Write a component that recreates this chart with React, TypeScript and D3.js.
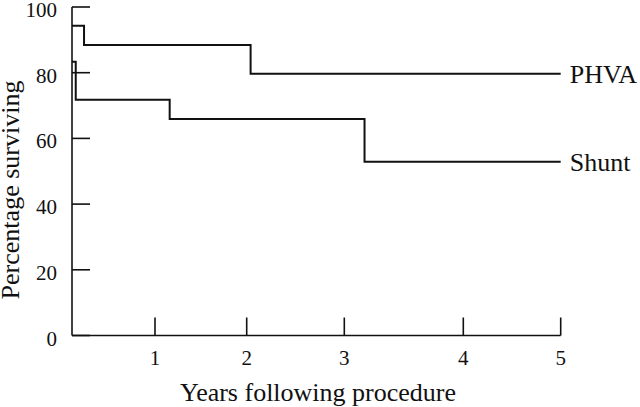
import React from "react";
import * as d3 from "d3";

// survival steps (years, percentage)
const phvaYears = [0, 0.145, 2.04, 5];
const phvaSurvival = [94.3, 88.4, 79.7, 79.7];
const shuntYears = [0, 0.045, 1.16, 3.17, 5];
const shuntSurvival = [83.3, 71.8, 65.9, 52.9, 52.9];

const xTicks = [1, 2, 3, 4, 5];
const yTicks = [0, 20, 40, 60, 80, 100];

const width = 640;
const height = 407;
const font = '"Liberation Serif", "Times New Roman", Times, serif';

// the printed axis is hand-spaced, so map each year to its own position
const xScale = d3
  .scaleLinear()
  .domain([0, 1, 2, 3, 4, 5])
  .range([72, 155, 246.7, 344.3, 463.3, 560.7]);
const yScale = d3.scaleLinear().domain([0, 100]).range([335.5, 7]);

const line = d3
  .line<[number, number]>()
  .x((d) => xScale(d[0]))
  .y((d) => yScale(d[1]))
  .curve(d3.curveStepAfter);

const series = [
  { name: "PHVA", years: phvaYears, values: phvaSurvival },
  { name: "Shunt", years: shuntYears, values: shuntSurvival },
];

const txt = { fontFamily: font, fill: "#111" };

export default function App() {
  const x0 = xScale(0);
  const x1 = xScale(5);
  const y0 = yScale(0);
  const tickLen = 18;

  return (
    <svg
      width={width}
      height={height}
      style={{ position: "absolute", left: 0, top: 0, background: "#fff" }}
    >
      {/* axes */}
      <line x1={x0} x2={x0} y1={yScale(100)} y2={y0} stroke="#111" strokeWidth={1.6} />
      <line x1={x0} x2={x1} y1={y0} y2={y0} stroke="#111" strokeWidth={1.6} />

      {yTicks.map((t) => (
        <g key={"y" + t}>
          <line
            x1={x0}
            x2={x0 + tickLen}
            y1={yScale(t)}
            y2={yScale(t)}
            stroke="#111"
            strokeWidth={1.6}
          />
          <text
            x={57}
            y={yScale(t) + 10}
            textAnchor="end"
            fontSize={21}
            style={txt}
          >
            {t}
          </text>
        </g>
      ))}

      {xTicks.map((t) => (
        <g key={"x" + t}>
          <line
            x1={xScale(t)}
            x2={xScale(t)}
            y1={y0}
            y2={y0 - tickLen}
            stroke="#111"
            strokeWidth={1.6}
          />
          <text x={xScale(t)} y={365} textAnchor="middle" fontSize={21} style={txt}>
            {t}
          </text>
        </g>
      ))}

      {/* survival curves */}
      {series.map((s) => {
        const pts = s.years.map((yr, i) => [yr, s.values[i]] as [number, number]);
        const last = pts[pts.length - 1];
        return (
          <g key={s.name}>
            <path d={line(pts) || ""} fill="none" stroke="#111" strokeWidth={2} />
            <text
              x={xScale(last[0]) + 9}
              y={yScale(last[1]) + 9}
              fontSize={26}
              style={txt}
            >
              {s.name}
            </text>
          </g>
        );
      })}

      {/* axis titles */}
      <text x={318} y={401} textAnchor="middle" fontSize={26} style={txt}>
        Years following procedure
      </text>
      <text
        transform={`translate(19,190) rotate(-90)`}
        textAnchor="middle"
        fontSize={26}
        style={txt}
      >
        Percentage surviving
      </text>
    </svg>
  );
}
